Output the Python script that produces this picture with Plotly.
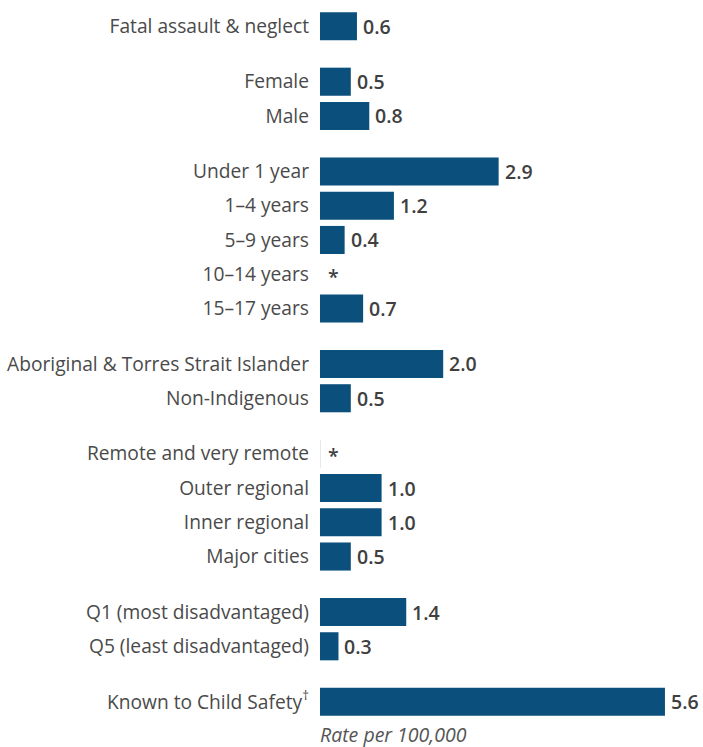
import plotly.graph_objects as go

categories = [
    "Fatal assault & neglect",
    "Female", "Male",
    "Under 1 year", "1–4 years", "5–9 years", "10–14 years", "15–17 years",
    "Aboriginal & Torres Strait Islander", "Non-Indigenous",
    "Remote and very remote", "Outer regional", "Inner regional", "Major cities",
    "Q1 (most disadvantaged)", "Q5 (least disadvantaged)",
    "Known to Child Safety<sup>†</sup>",
]
values = [0.6, 0.5, 0.8, 2.9, 1.2, 0.4, None, 0.7, 2.0, 0.5, None, 1.0, 1.0, 0.5, 1.4, 0.3, 5.6]
group_sizes = [1, 2, 5, 2, 4, 2, 1]

# layout positions (computed from group structure)
GROUP_GAP = 0.62
positions = []
p = 0.0
for gi, n in enumerate(group_sizes):
    for k in range(n):
        positions.append(p)
        p += 1
    p += GROUP_GAP
last = positions[-1]

BAR_COLOR = "#0b4f7d"
FONT = "Open Sans"
bar_vals = [v if v is not None else 0 for v in values]

fig = go.Figure()
fig.add_trace(go.Bar(
    x=bar_vals, y=positions, orientation="h",
    marker=dict(color=BAR_COLOR, line=dict(width=0)),
    width=0.82, hoverinfo="skip",
))

annotations = []
for pos, v in zip(positions, values):
    label = f"{v:.1f}" if v is not None else "*"
    annotations.append(dict(
        x=v if v is not None else 0, y=pos, xref="x", yref="y",
        text=label, showarrow=False, xanchor="left", yanchor="middle",
        xshift=4 if v is not None else 6, yshift=0 if v is not None else -2,
        font=dict(family=FONT, size=19.5, color="#404040", weight=600),
    ))
annotations.append(dict(
    x=0, y=0, xref="x", yref="paper", text="<i>Rate per 100,000</i>",
    showarrow=False, xanchor="left", yanchor="bottom", xshift=-2, yshift=-3,
    font=dict(family=FONT, size=19.5, color="#555555"),
))

shapes = []
for pos, v, c in zip(positions, values, categories):
    if v is None and c.startswith("Remote"):
        shapes.append(dict(type="line", xref="x", yref="y", x0=0, x1=0,
                           y0=pos - 0.41, y1=pos + 0.41,
                           line=dict(color="#c9d3dd", width=1)))

fig.update_layout(
    width=703, height=747,
    margin=dict(l=320, r=3, t=0, b=0),
    plot_bgcolor="white", paper_bgcolor="white",
    showlegend=False,
    annotations=annotations,
    shapes=shapes,
    xaxis=dict(range=[0, 380 / 61.6], visible=False, fixedrange=True),
    yaxis=dict(
        range=[last + 1.32, -0.765],
        tickmode="array", tickvals=positions, ticktext=categories,
        showgrid=False, zeroline=False, showline=False,
        ticks="", ticklabelstandoff=10,
        tickfont=dict(family=FONT, size=19.2, color="#4a4a4a"),
    ),
)
fig.write_html("out.html")
